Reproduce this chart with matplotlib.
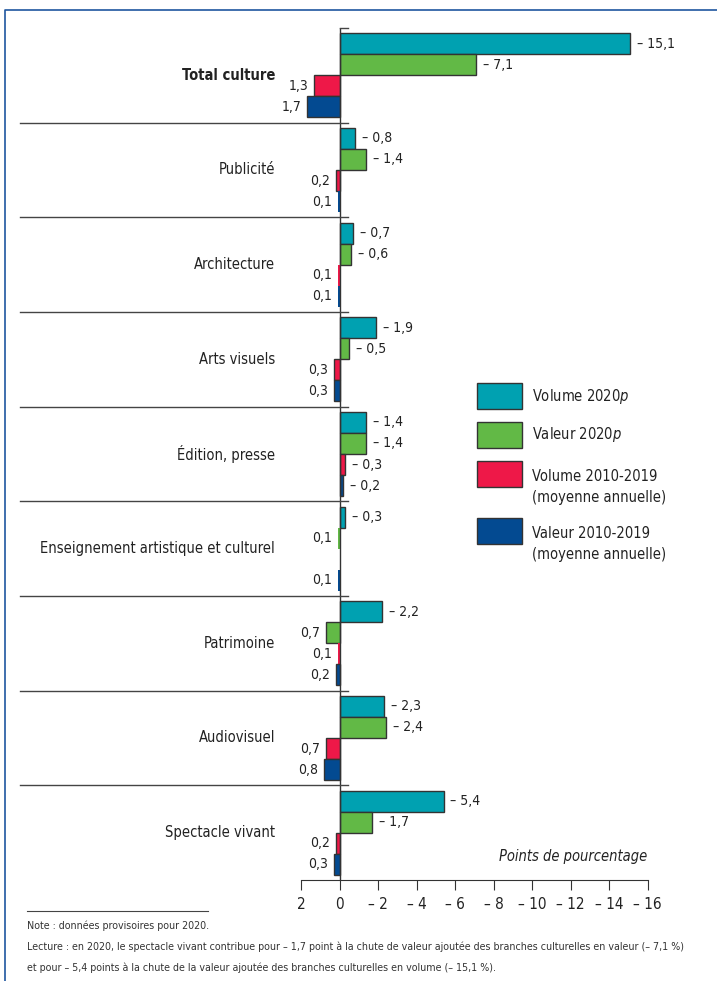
import matplotlib.pyplot as plt
import numpy as np
from matplotlib.lines import Line2D
from matplotlib.patches import Rectangle
from matplotlib.transforms import blended_transform_factory

plt.rcParams['font.family'] = ['DejaVu Sans']
plt.rcParams['font.stretch'] = 'condensed'

categories = ["Total culture", "Publicité", "Architecture", "Arts visuels",
              "Édition, presse", "Enseignement artistique et culturel",
              "Patrimoine", "Audiovisuel", "Spectacle vivant"]
volume_2020 = [-15.1, -0.8, -0.7, -1.9, -1.4, -0.3, -2.2, -2.3, -5.4]
valeur_2020 = [-7.1, -1.4, -0.6, -0.5, -1.4, 0.1, 0.7, -2.4, -1.7]
volume_moy = [1.3, 0.2, 0.1, 0.3, -0.3, None, 0.1, 0.7, 0.2]
valeur_moy = [1.7, 0.1, 0.1, 0.3, -0.2, 0.1, 0.2, 0.8, 0.3]
series_names = ["Volume 2020$\\it{p}$", "Valeur 2020$\\it{p}$",
                "Volume 2010-2019\n(moyenne annuelle)",
                "Valeur 2010-2019\n(moyenne annuelle)"]
colors = ["#00a1b1", "#62b946", "#ee1848", "#034a91"]
xticks = [2, 0, -2, -4, -6, -8, -10, -12, -14, -16]

W, H = 717, 981
fig = plt.figure(figsize=(W / 100, H / 100), dpi=100)
ax = fig.add_axes([301 / W, 1 - 880 / H, 346.7 / W, 852 / H])

y = np.arange(len(categories))
bh = 0.222
dark = "#333333"
txtc = "#222222"
series = [volume_2020, valeur_2020, volume_moy, valeur_moy]
for k, (vals, col) in enumerate(zip(series, colors)):
    for i, v in enumerate(vals):
        if v is None:
            continue
        yc = y[i] + (k - 1.5) * bh
        lw = 1.0 if abs(v) > 0.15 else 0
        ax.barh(yc, v, height=bh, color=col, edgecolor=dark, linewidth=lw)
        txt = ("– " + f"{abs(v):.1f}" if v < 0 else f"{v:.1f}").replace(".", ",")
        if v < 0:
            ax.annotate(txt, (v, yc), xytext=(5, 0), textcoords="offset points",
                        ha="left", va="center", fontsize=10, color=txtc)
        else:
            ax.annotate(txt, (v, yc), xytext=(-4, 0), textcoords="offset points",
                        ha="right", va="center", fontsize=10, color=txtc)

ax.set_xlim(2, -16)
ax.set_ylim(len(categories) - 0.5, -0.5)
for s in ["top", "right", "left"]:
    ax.spines[s].set_visible(False)
ax.spines["bottom"].set_color(dark)
ax.set_yticks([])
ax.set_xticks(xticks)
ax.set_xticklabels([str(t) if t >= 0 else "– " + str(-t) for t in xticks], fontsize=11, color=txtc)
ax.tick_params(axis="x", direction="out", length=7, color=dark, pad=5)
ax.axvline(0, color=dark, lw=1)

# category labels and separators
tr = blended_transform_factory(fig.transFigure, ax.transData)
for i, c in enumerate(categories):
    fig.text(275 / W, y[i], c, transform=tr, ha="right", va="center",
             fontsize=10.5, fontweight="bold" if i == 0 else "normal", color=txtc)
for b in np.arange(0.5, len(categories) - 1, 1.0):
    fig.add_artist(Line2D([20 / W, 348 / W], [b, b], transform=tr, color="#444444", lw=1))
fig.add_artist(Line2D([340 / W, 348 / W], [-0.5, -0.5], transform=tr, color="#444444", lw=1))

ax.text(-16, 8.25, "Points de pourcentage", ha="right", va="center",
        fontsize=10.5, style="italic", color=txtc)

# legend
ly = [396, 435, 474, 531]
for yy, name, col in zip(ly, series_names, colors):
    fig.add_artist(Rectangle((477 / W, 1 - (yy + 13) / H), 45 / W, 26 / H,
                             facecolor=col, edgecolor=dark, lw=1, transform=fig.transFigure))
    if "\n" in name:
        fig.text(532 / W, 1 - (yy + 12.5) / H, name, ha="left", va="center",
                 fontsize=10.5, color=txtc, linespacing=1.5)
    else:
        fig.text(532 / W, 1 - yy / H, name, ha="left", va="center", fontsize=10.5, color=txtc)

# footnote
fig.add_artist(Line2D([27 / W, 208 / W], [1 - 911 / H, 1 - 911 / H], color="#444444", lw=0.8))
notes = ["Note : données provisoires pour 2020.",
         "Lecture : en 2020, le spectacle vivant contribue pour – 1,7 point à la chute de valeur ajoutée des branches culturelles en valeur (– 7,1 %)",
         "et pour – 5,4 points à la chute de la valeur ajoutée des branches culturelles en volume (– 15,1 %)."]
for yy, n in zip([926, 947, 968], notes):
    fig.text(27 / W, 1 - yy / H, n, ha="left", va="center", fontsize=7.7, color="#333333")

# blue frame
fig.add_artist(Line2D([5 / W, 5 / W, 1.0], [0, 1 - 10 / H, 1 - 10 / H], color="#1f56a0", lw=1.2))

fig.savefig("out.png", dpi=100)
